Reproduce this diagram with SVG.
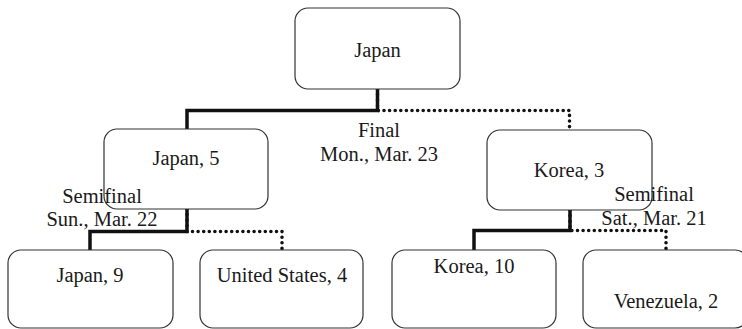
<svg xmlns="http://www.w3.org/2000/svg" width="742" height="329" viewBox="0 0 742 329">
<style>
.box{fill:#fff;stroke:#333;stroke-width:1.2}
.t{font-family:"Liberation Serif","Times New Roman",serif;font-size:20.5px;fill:#1a1a1a;text-anchor:middle}
.solid{fill:none;stroke:#111;stroke-width:3.5;stroke-linejoin:miter}
.dot{fill:none;stroke:#111;stroke-width:3.6;stroke-linecap:round;stroke-dasharray:0 5.6}
</style>
<rect width="742" height="329" fill="#fff"/>
<g id="connectors">
<path class="solid" d="M377.5 89V110.5H187V130"/>
<path class="dot" d="M377.5 89V110.5H569.5V130"/>
<path class="solid" d="M187 209V231.5H90V250"/>
<path class="dot" d="M187 209V231.5H282V250"/>
<path class="solid" d="M570 210V230.5H474V250"/>
<path class="dot" d="M570 210V230.5H666V250"/>
</g>
<g id="n-final"><rect class="box" x="295" y="8" width="165" height="81" rx="13"/><text class="t" x="377.5" y="57">Japan</text></g>
<g id="n-japan5"><rect class="box" x="104" y="129" width="164" height="80" rx="13"/><text class="t" x="186" y="165">Japan, 5</text></g>
<g id="n-korea3"><rect class="box" x="487" y="130" width="165" height="80" rx="13"/><text class="t" x="569" y="177">Korea, 3</text></g>
<g id="n-japan9"><rect class="box" x="8" y="250" width="165" height="78" rx="13"/><text class="t" x="90" y="282">Japan, 9</text></g>
<g id="n-us4"><rect class="box" x="200" y="250" width="163" height="78" rx="13"/><text class="t" x="282" y="282">United States, 4</text></g>
<g id="n-korea10"><rect class="box" x="392" y="250" width="164" height="78" rx="13"/><text class="t" x="474" y="273">Korea, 10</text></g>
<g id="n-venezuela2"><rect class="box" x="583" y="250" width="165" height="78" rx="13"/><text class="t" x="666" y="308">Venezuela, 2</text></g>
<g id="labels">
<text class="t" x="379" y="137">Final</text>
<text class="t" x="379" y="161">Mon., Mar. 23</text>
<text class="t" x="102" y="203">Semifinal</text>
<text class="t" x="102" y="226">Sun., Mar. 22</text>
<text class="t" x="654" y="201">Semifinal</text>
<text class="t" x="654" y="225">Sat., Mar. 21</text>
</g>
</svg>
